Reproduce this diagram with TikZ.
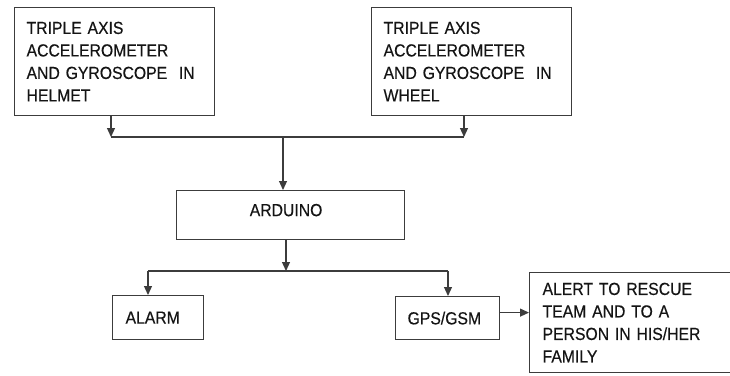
\documentclass[tikz,border=0pt]{standalone}
\usepackage{fontspec}
\setmainfont{Liberation Sans}[FakeStretch=0.9, FakeBold=0.4]
\usetikzlibrary{arrows.meta}
\definecolor{linec}{RGB}{60,60,60}
\definecolor{textc}{RGB}{20,20,20}
\tikzset{
  box/.style={draw=linec, line width=1.2pt, anchor=north west, align=left,
    font=\fontsize{17.5pt}{22.5pt}\selectfont, text=textc, inner ysep=0pt},
  conn/.style={draw=linec, line width=1.2pt},
  arr/.style={conn, -{Triangle[length=9pt,width=8pt]}}
}
\begin{document}
\begin{tikzpicture}[x=1pt,y=1pt]
\useasboundingbox (0,0) rectangle (730,-375);
\clip (0,0) rectangle (730,-375);
% boxes
\node[box, inner xsep=12pt, text width=176pt, minimum width=200pt, minimum height=108pt] (h) at (14,-7)
  {TRIPLE AXIS\\ACCELEROMETER\\AND GYROSCOPE\ \ IN\\HELMET};
\node[box, inner xsep=12pt, text width=176pt, minimum width=200pt, minimum height=108pt] (w) at (371,-7)
  {TRIPLE AXIS\\ACCELEROMETER\\AND GYROSCOPE\ \ IN\\WHEEL};
\node[box, align=center, minimum width=228pt, minimum height=49pt] (a) at (176,-190)
  {\raisebox{5pt}[\height][\depth]{ARDUINO}\hspace{9pt}};
\node[box, inner xsep=13pt, text width=65pt, minimum width=91pt, minimum height=44pt] (al) at (112,-295)
  {ALARM};
\node[box, inner xsep=12pt, text width=80pt, minimum width=104pt, minimum height=43pt] (g) at (395,-296)
  {GPS/GSM};
\node[box, inner xsep=13pt, text width=189pt, minimum width=215pt, minimum height=100pt] (alr) at (529,-272)
  {ALERT TO RESCUE\\TEAM AND TO A\\PERSON IN HIS/HER\\FAMILY};
% junction points
\coordinate (jh) at (111,-137);
\coordinate (jw) at (464,-137);
\coordinate (ja) at (283,-137);
\coordinate (jb) at (286,-271);
\coordinate (jl) at (148,-271);
\coordinate (jg) at (448,-271);
% connectors
\draw[arr] (h.south -| jh) -- (jh);
\draw[arr] (w.south -| jw) -- (jw);
\draw[conn] (jh) -- (jw);
\draw[arr] (ja) -- (a.north -| ja);
\draw[arr] (a.south -| jb) -- (jb);
\draw[conn] (jl) -- (jg);
\draw[arr] (jl) -- (al.north -| jl);
\draw[arr] (jg) -- (g.north -| jg);
\coordinate (gout) at ([yshift=5.5pt]g.east);
\draw[arr] (gout) -- (gout -| alr.west);
\end{tikzpicture}
\end{document}
